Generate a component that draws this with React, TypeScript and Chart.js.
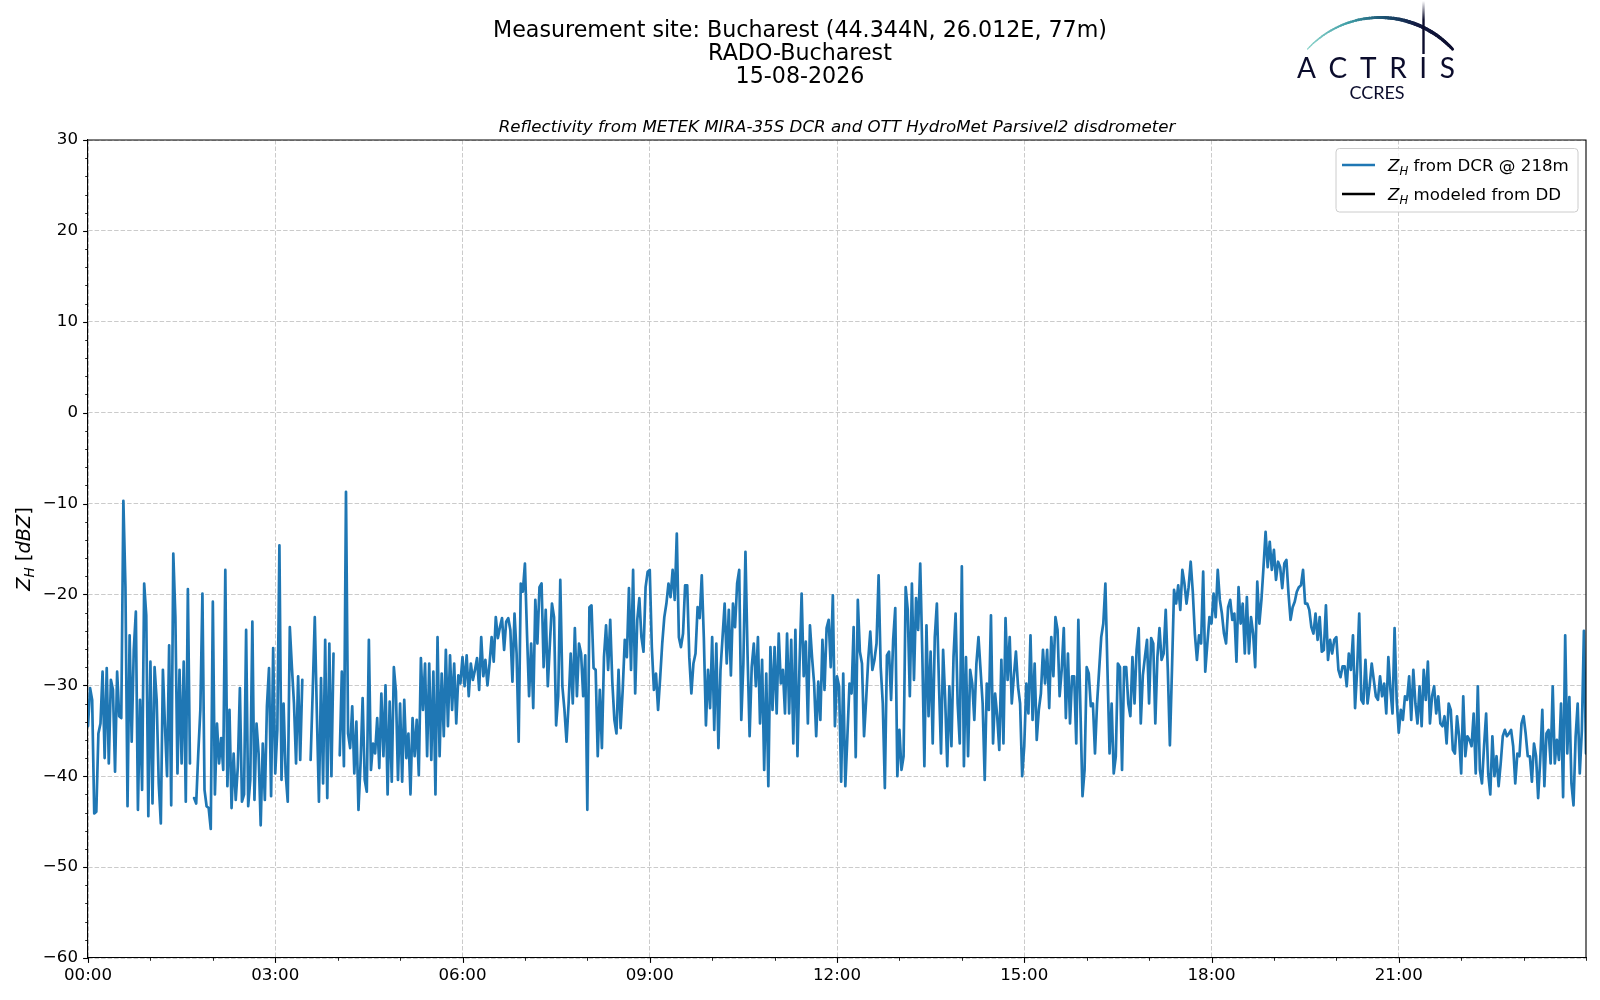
import React, { useEffect, useRef } from 'react';
import { Chart, registerables } from 'chart.js';

Chart.register(...registerables);

// ---------- DATA ----------
// Z_H from DCR @ 218m, one value every 2 minutes (null = no data)
const SAMPLE_STEP_MIN = 2;

const zh_00_04 = [
  -34.5, -30.3, -31.6, -44.1, -43.9, -35.3, -34.2, -28.5, -38.0, -28.1,
  -38.6, -29.4, -30.5, -39.5, -28.5, -33.4, -33.6, -9.7, -19.2, -43.3,
  -24.5, -36.2, -26.1, -21.9, -43.7, -31.6, -41.5, -18.8, -22.3, -44.4,
  -27.4, -43.0, -28.0, -31.6, -40.8, -45.2, -28.3, -34.5, -40.0, -25.6,
  -43.2, -15.5, -22.5, -39.7, -28.3, -38.6, -27.4, -42.8, -19.4, -38.6,
  null, -42.4, -43.0, -37.5, -32.7, -19.9, -41.5, -43.3, -43.5, -45.8,
  -20.8, -42.0, -34.2, -38.6, -35.8, -39.3, -17.3, -41.1, -32.7, -43.5,
  -37.5, -42.6, -39.0, -30.3, -42.8, -42.0, -23.9, -43.3, -40.4, -23.0,
  -42.6, -34.2, -37.5, -45.4, -36.4, -42.6, -32.3, -28.1, -42.2, -25.9,
  -39.7, -34.9, -14.6, -40.4, -32.0, -39.7, -42.8, -23.6, -28.0, -32.0,
  -38.6, -29.0, -38.2, -29.4, null, null, null, -38.2, -30.7, -22.5,
  -33.1, -42.8, -29.2, -40.8, -25.0, -42.4, -25.4, -40.0, -26.5, null,
];

const zh_04_08 = [
  null, -37.7, -28.5, -38.9, -8.7, -35.3, -36.9, -32.3, -39.7, -34.0,
  -43.7, -38.6, -31.4, -40.4, -41.7, -25.0, -39.3, -36.4, -37.5, -33.6,
  -39.1, -30.9, -37.8, -30.0, -42.0, -31.8, -40.6, -28.0, -30.7, -40.4,
  -32.0, -40.6, -31.6, -38.0, -35.3, -42.0, -33.6, -37.8, -33.8, -39.9,
  -27.0, -32.7, -27.6, -37.8, -27.6, -38.2, -28.5, -42.0, -24.7, -37.8,
  -28.7, -35.6, -26.1, -34.5, -26.7, -32.7, -27.6, -34.2, -28.9, -29.8,
  -26.9, -30.1, -26.7, -31.2, -27.6, -29.4, -28.3, -27.0, -30.5, -24.7,
  -29.0, -27.2, -30.0, -27.6, -24.7, -27.4, -22.5, -24.8, -23.6, -22.6,
  -26.1, -23.0, -22.6, -23.9, -29.6, -22.1, -26.5, -36.2, -18.8, -19.7,
  -16.6, -24.3, -31.2, -25.4, -32.5, -20.6, -25.4, -19.2, -18.8, -28.0,
  -21.7, -30.1, -25.4, -21.0, -22.5, -34.4, -31.2, -18.4, -30.1, -32.7,
  -36.2, -32.0, -26.5, -32.0, -23.7, -31.2, -25.4, -26.5, -31.2, -26.7,
];

const zh_08_12 = [
  -43.7, -21.4, -21.2, -28.1, -28.3, -37.8, -30.5, -36.9, -26.9, -23.4,
  -28.3, -22.8, -29.6, -33.8, -35.3, -28.3, -34.7, -30.5, -25.0, -26.9,
  -19.3, -28.3, -17.3, -30.9, -22.8, -20.4, -24.7, -26.3, -19.2, -17.5,
  -17.3, -25.8, -30.5, -28.7, -32.7, -29.2, -25.4, -22.5, -21.0, -18.8,
  -20.3, -17.3, -20.6, -13.3, -24.7, -25.8, -24.3, -19.0, -19.0, -26.9,
  -30.9, -27.6, -26.5, -21.4, -22.6, -17.9, -24.8, -34.4, -28.3, -32.5,
  -24.7, -34.9, -25.4, -36.9, -28.3, -24.7, -21.0, -27.6, -21.7, -28.9,
  -21.0, -23.6, -18.8, -17.3, -33.8, -27.6, -15.3, -26.5, -35.6, -28.0,
  -25.4, -30.1, -24.7, -34.2, -27.2, -39.3, -28.7, -41.1, -25.8, -32.7,
  -25.8, -33.1, -24.3, -29.8, -28.3, -33.1, -24.3, -33.1, -25.0, -36.4,
  -23.9, -37.8, -27.6, -19.9, -29.0, -25.2, -34.2, -23.4, -26.9, -29.8,
  -35.6, -29.6, -33.8, -25.0, -30.5, -23.7, -22.8, -28.0, -20.1, -34.5,
];

const zh_12_16 = [
  -29.0, -30.1, -40.6, -28.7, -41.1, -35.6, -29.8, -30.9, -23.6, -37.9,
  -20.6, -26.3, -27.6, -35.6, -31.6, -27.2, -24.1, -28.3, -27.2, -25.4,
  -17.9, -28.0, -32.0, -41.3, -26.7, -26.3, -31.6, -25.0, -21.5, -40.0,
  -34.9, -39.3, -37.8, -19.2, -21.7, -31.2, -18.8, -29.4, -20.4, -23.9,
  -16.6, -26.5, -38.9, -23.4, -33.4, -26.3, -36.4, -24.7, -21.0, -29.8,
  -37.5, -26.1, -31.6, -38.9, -30.1, -36.7, -26.9, -22.1, -32.0, -36.4,
  -16.9, -38.9, -26.9, -37.8, -28.3, -29.8, -33.8, -27.6, -24.7, -28.3,
  -32.0, -40.4, -29.8, -32.7, -22.3, -36.4, -30.9, -33.4, -37.1, -27.2,
  -36.4, -22.6, -29.4, -24.7, -32.0, -29.0, -26.3, -30.1, -32.0, -40.0,
  -36.7, -29.8, -33.1, -24.5, -33.8, -27.6, -36.0, -32.7, -30.9, -26.1,
  -29.8, -26.1, -32.5, -24.7, -29.0, -22.5, -23.9, -31.2, -28.3, -23.7,
  -33.6, -26.5, -34.2, -29.0, -29.0, -36.4, -22.8, -32.7, -42.2, -39.3,
];

const zh_16_20 = [
  -28.0, -28.7, -32.3, -32.0, -37.5, -32.0, -28.3, -24.7, -23.2, -18.8,
  -28.3, -37.5, -32.0, -39.7, -37.8, -27.6, -28.0, -39.3, -28.0, -28.0,
  -32.0, -33.4, -26.9, -32.0, -26.1, -23.7, -34.2, -28.9, -26.9, -25.0,
  -32.0, -24.8, -25.4, -34.2, -26.9, -23.7, -27.2, -26.5, -21.7, -28.3,
  -36.6, -28.3, -19.5, -21.0, -19.0, -21.7, -17.3, -18.8, -21.0, -19.2,
  -16.4, -19.7, -24.3, -27.2, -24.5, -25.4, -17.5, -28.5, -25.4, -22.5,
  -23.2, -19.9, -22.5, -17.3, -20.6, -22.1, -24.3, -25.4, -21.4, -20.6,
  -22.8, -22.1, -27.4, -19.2, -23.2, -21.0, -26.5, -20.3, -26.5, -22.5,
  -24.3, -28.0, -18.6, -23.2, -20.6, -17.0, -13.1, -17.0, -14.2, -17.3,
  -15.1, -18.4, -16.4, -17.0, -19.3, -16.6, -16.2, -19.9, -22.8, -21.4,
  -20.8, -19.7, -19.2, -19.0, -17.3, -21.0, -21.0, -21.7, -23.6, -24.3,
  -22.1, -25.0, -22.5, -26.3, -26.1, -21.2, -27.2, -25.0, -26.5, -25.0,
];

const zh_20_24 = [
  -24.7, -28.3, -29.1, -27.9, -27.9, -30.1, -26.5, -28.3, -24.5, -32.5,
  -28.3, -22.1, -31.6, -32.0, -27.2, -32.0, -30.1, -27.6, -29.4, -31.2,
  -31.6, -29.0, -31.2, -29.8, -33.1, -26.9, -30.5, -33.1, -23.7, -31.6,
  -35.2, -32.7, -33.8, -31.2, -31.6, -29.0, -33.8, -28.3, -32.0, -34.2,
  -30.1, -34.5, -28.3, -31.6, -27.4, -34.2, -31.2, -30.1, -33.1, -31.2,
  -34.2, -34.5, -33.4, -36.4, -32.0, -32.7, -37.1, -37.5, -33.4, -35.6,
  -39.7, -31.2, -37.8, -35.6, -36.0, -36.7, -33.1, -39.7, -30.1, -39.3,
  -40.8, -36.7, -33.1, -39.7, -42.0, -35.6, -40.0, -37.8, -41.1, -38.6,
  -35.6, -34.9, -35.6, -35.3, -34.9, -36.7, -40.8, -37.5, -37.8, -34.2,
  -33.4, -35.3, -37.8, -37.8, -40.6, -36.4, -37.8, -42.4, -38.2, -32.7,
  -41.1, -35.3, -34.9, -38.6, -30.1, -38.6, -36.0, -38.2, -32.0, -42.3,
  -24.5, -37.5, -31.3, -40.8, -43.2, -35.7, -32.0, -39.7, -35.0, -24.0,
  -37.5,
];

// Z_H modeled from DD: no values for this day
const zhModeled: (number | null)[] = [];

const xTickHours = [0, 3, 6, 9, 12, 15, 18, 21];
const xTickLabels = ['00:00', '03:00', '06:00', '09:00', '12:00', '15:00', '18:00', '21:00'];
const yTickValues = [-60, -50, -40, -30, -20, -10, 0, 10, 20, 30];
const yTickLabels = ['\u221260', '\u221250', '\u221240', '\u221230', '\u221220', '\u221210', '0', '10', '20', '30'];

const titleLines = ['Measurement site: Bucharest (44.344N, 26.012E, 77m)', 'RADO-Bucharest', '15-08-2026'];
const subtitleText = 'Reflectivity from METEK MIRA-35S DCR and OTT HydroMet Parsivel2 disdrometer';
const legendRest = [' from DCR @ 218m', ' modeled from DD'];

// ---------- STYLE ----------
const FAMILY = '"DejaVu Sans", sans-serif';
const FS = 16.67;
const FS_TITLE = 22.2;
const FS_YLABEL = 19.4;
const BLUE = '#1f77b4';
const GRID = 'rgba(200,200,200,0.95)';
const NAVY = '#0b0c2c';

type Seg = { t: string; italic?: boolean; sub?: boolean };

function richWidth(ctx: CanvasRenderingContext2D, segs: Seg[], size: number) {
  let w = 0;
  for (const s of segs) {
    const fs = s.sub ? size * 0.7 : size;
    ctx.font = `${s.italic ? 'italic ' : ''}${fs}px ${FAMILY}`;
    w += ctx.measureText(s.t).width;
  }
  return w;
}

function drawRich(ctx: CanvasRenderingContext2D, segs: Seg[], x: number, y: number, size: number) {
  let cx = x;
  ctx.textAlign = 'left';
  ctx.textBaseline = 'alphabetic';
  for (const s of segs) {
    const fs = s.sub ? size * 0.7 : size;
    ctx.font = `${s.italic ? 'italic ' : ''}${fs}px ${FAMILY}`;
    ctx.fillText(s.t, cx, y + (s.sub ? size * 0.22 : 0));
    cx += ctx.measureText(s.t).width;
  }
}

function drawLogo(ctx: CanvasRenderingContext2D) {
  ctx.save();
  // arc
  const cx = 1380, cy = 116.5, R = 99;
  const a0 = (-137 * Math.PI) / 180;
  const a1 = (-43 * Math.PI) / 180;
  const grad = ctx.createLinearGradient(1307, 0, 1453, 0);
  grad.addColorStop(0, '#8fd5cc');
  grad.addColorStop(0.28, '#3f9ea6');
  grad.addColorStop(0.52, '#1c5373');
  grad.addColorStop(0.75, '#121a42');
  grad.addColorStop(1, NAVY);
  ctx.strokeStyle = grad;
  ctx.lineCap = 'round';
  const N = 60;
  for (let k = 0; k < N; k++) {
    const t0 = a0 + ((a1 - a0) * k) / N;
    const t1 = a0 + ((a1 - a0) * (k + 1)) / N;
    const f = (k + 0.5) / N;
    ctx.lineWidth = 1.2 + 2.4 * Math.min(1, f * 1.5) - (f > 0.85 ? (f - 0.85) * 5 : 0);
    ctx.beginPath();
    ctx.arc(cx, cy, R, t0, t1 + 0.003);
    ctx.stroke();
  }
  // vertical bar
  const vg = ctx.createLinearGradient(0, 1, 0, 54);
  vg.addColorStop(0, 'rgba(11,12,44,0)');
  vg.addColorStop(0.35, 'rgba(11,12,44,1)');
  vg.addColorStop(1, NAVY);
  ctx.strokeStyle = vg;
  ctx.lineWidth = 2.4;
  ctx.lineCap = 'butt';
  ctx.beginPath();
  ctx.moveTo(1423.5, 1);
  ctx.lineTo(1423.5, 54);
  ctx.stroke();
  // ACTRIS letters spread between 1297 and 1455
  ctx.fillStyle = NAVY;
  ctx.font = `28px Lato, "DejaVu Sans", sans-serif`;
  ctx.textBaseline = 'alphabetic';
  ctx.textAlign = 'left';
  const word = 'ACTRIS';
  const widths = word.split('').map((c) => ctx.measureText(c).width);
  const total = widths.reduce((a, b) => a + b, 0);
  const gap = (158 - total) / (word.length - 1);
  let x = 1297;
  word.split('').forEach((c, i) => {
    ctx.fillText(c, x, 78);
    x += widths[i] + gap;
  });
  ctx.font = `18px Lato, "DejaVu Sans", sans-serif`;
  ctx.textAlign = 'center';
  ctx.fillText('CCRES', 1377, 99);
  ctx.restore();
}

const decorPlugin = {
  id: 'figureDecor',
  afterDraw(chart: any) {
    const { ctx, chartArea: a, scales } = chart;
    const xs = scales.x;
    const ys = scales.y;
    ctx.save();
    // top and right spines
    ctx.strokeStyle = '#000';
    ctx.lineWidth = 1.1;
    ctx.beginPath();
    ctx.moveTo(a.left, a.top);
    ctx.lineTo(a.right, a.top);
    ctx.lineTo(a.right, a.bottom);
    ctx.stroke();
    // x tick marks (major every 3 h, minor every hour)
    for (let h = 0; h <= 24; h++) {
      const px = Math.round(xs.getPixelForValue(h)) + 0.5;
      const major = xTickHours.includes(h);
      ctx.lineWidth = major ? 1.1 : 0.85;
      ctx.beginPath();
      ctx.moveTo(px, a.bottom);
      ctx.lineTo(px, a.bottom + (major ? 4.9 : 2.8));
      ctx.stroke();
    }
    // y tick marks (major every 10, minor every 2)
    for (let v = -60; v <= 30; v += 2) {
      const py = Math.round(ys.getPixelForValue(v)) + 0.5;
      const major = yTickValues.includes(v);
      ctx.lineWidth = major ? 1.1 : 0.85;
      ctx.beginPath();
      ctx.moveTo(a.left, py);
      ctx.lineTo(a.left - (major ? 4.9 : 2.8), py);
      ctx.stroke();
    }
    // y axis title  Z_H [dBZ]
    ctx.fillStyle = '#000';
    const ySegs: Seg[] = [
      { t: 'Z', italic: true },
      { t: 'H', italic: true, sub: true },
      { t: ' [' },
      { t: 'dBZ', italic: true },
      { t: ']' },
    ];
    const yw = richWidth(ctx, ySegs, FS_YLABEL);
    ctx.save();
    ctx.translate(23, (a.top + a.bottom) / 2);
    ctx.rotate(-Math.PI / 2);
    drawRich(ctx, ySegs, -yw / 2, 7, FS_YLABEL);
    ctx.restore();
    // legend box
    const bx = 1336, by = 148.5, bw = 242, bh = 63.5, r = 3.5;
    ctx.beginPath();
    ctx.moveTo(bx + r, by);
    ctx.arcTo(bx + bw, by, bx + bw, by + bh, r);
    ctx.arcTo(bx + bw, by + bh, bx, by + bh, r);
    ctx.arcTo(bx, by + bh, bx, by, r);
    ctx.arcTo(bx, by, bx + bw, by, r);
    ctx.closePath();
    ctx.fillStyle = 'rgba(255,255,255,0.8)';
    ctx.fill();
    ctx.strokeStyle = '#cccccc';
    ctx.lineWidth = 1;
    ctx.stroke();
    const rows = [165, 194];
    const colors = chart.data.datasets.map((d: any) => d.borderColor);
    rows.forEach((ry, i) => {
      ctx.strokeStyle = colors[i];
      ctx.lineWidth = 2.7;
      ctx.beginPath();
      ctx.moveTo(1342, ry);
      ctx.lineTo(1375, ry);
      ctx.stroke();
      ctx.fillStyle = '#000';
      drawRich(
        ctx,
        [{ t: 'Z', italic: true }, { t: 'H', italic: true, sub: true }, { t: legendRest[i] }],
        1388,
        ry + 5.9,
        FS,
      );
    });
    drawLogo(ctx);
    ctx.restore();
  },
};

export default function App() {
  const ref = useRef<HTMLCanvasElement | null>(null);

  useEffect(() => {
    document.body.style.margin = '0';
    const canvas = ref.current;
    if (!canvas) return;
    const series = [...zh_00_04, ...zh_04_08, ...zh_08_12, ...zh_12_16, ...zh_16_20, ...zh_20_24];
    const points = series.map((v, i) => ({ x: (i * SAMPLE_STEP_MIN) / 60, y: v }));
    const modeled = zhModeled.map((v, i) => ({ x: (i * SAMPLE_STEP_MIN) / 60, y: v }));

    const chart = new Chart(canvas, {
      type: 'line',
      data: {
        datasets: [
          {
            label: 'Z_H from DCR @ 218m',
            data: points as any,
            borderColor: BLUE,
            backgroundColor: BLUE,
            borderWidth: 2.7,
            pointRadius: 0,
            tension: 0,
            spanGaps: false,
            borderJoinStyle: 'round',
            borderCapStyle: 'round',
            fill: false,
          },
          {
            label: 'Z_H modeled from DD',
            data: modeled as any,
            borderColor: '#000000',
            backgroundColor: '#000000',
            borderWidth: 2.7,
            pointRadius: 0,
            fill: false,
          },
        ],
      },
      options: {
        responsive: false,
        animation: false,
        devicePixelRatio: 1,
        events: [],
        layout: { padding: { left: 14, right: 14, top: 0, bottom: 12 } },
        scales: {
          x: {
            type: 'linear',
            position: 'bottom',
            min: 0,
            max: 24,
            afterBuildTicks: (s: any) => {
              s.ticks = Array.from({ length: 25 }, (_, h) => ({ value: h }));
            },
            afterFit: (s: any) => {
              s.height = 30;
            },
            ticks: {
              autoSkip: false,
              maxRotation: 0,
              minRotation: 0,
              padding: 7.5,
              color: '#000',
              font: { family: FAMILY, size: FS },
              callback: (v: any) => {
                const idx = xTickHours.indexOf(Number(v));
                return idx >= 0 ? xTickLabels[idx] : '';
              },
            },
            grid: {
              drawTicks: false,
              lineWidth: 1,
              color: (c: any) => (c.tick && xTickHours.includes(c.tick.value) ? GRID : 'rgba(0,0,0,0)'),
            },
            border: { display: true, color: '#000', width: 1.1, dash: [4.5, 2] },
          },
          y: {
            type: 'linear',
            position: 'left',
            min: -60,
            max: 30,
            afterBuildTicks: (s: any) => {
              const t = [];
              for (let v = -60; v <= 30; v += 2) t.push({ value: v });
              s.ticks = t;
            },
            afterFit: (s: any) => {
              s.width = 74;
            },
            ticks: {
              autoSkip: false,
              padding: 10,
              color: '#000',
              font: { family: FAMILY, size: FS },
              callback: (v: any) => {
                const idx = yTickValues.indexOf(Number(v));
                return idx >= 0 ? yTickLabels[idx] : '';
              },
            },
            grid: {
              drawTicks: false,
              lineWidth: 1,
              color: (c: any) => (c.tick && yTickValues.includes(c.tick.value) ? GRID : 'rgba(0,0,0,0)'),
            },
            border: { display: true, color: '#000', width: 1.1, dash: [4.5, 2] },
          },
        },
        plugins: {
          legend: { display: false },
          tooltip: { enabled: false },
          title: {
            display: true,
            text: titleLines,
            color: '#000',
            font: { family: FAMILY, size: FS_TITLE, weight: 'normal', lineHeight: 23 / FS_TITLE },
            padding: { top: 20, bottom: 0 },
          },
          subtitle: {
            display: true,
            text: subtitleText,
            color: '#000',
            fullSize: false,
            font: { family: FAMILY, size: FS, style: 'italic', weight: 'normal', lineHeight: 1.2 },
            padding: { top: 28.5, bottom: 2.5 },
          },
        },
      } as any,
      plugins: [decorPlugin],
    });
    return () => chart.destroy();
  }, []);

  return (
    <div style={{ width: 1600, height: 1000, background: '#fff' }}>
      <canvas ref={ref} width={1600} height={1000} style={{ display: 'block' }} />
    </div>
  );
}
